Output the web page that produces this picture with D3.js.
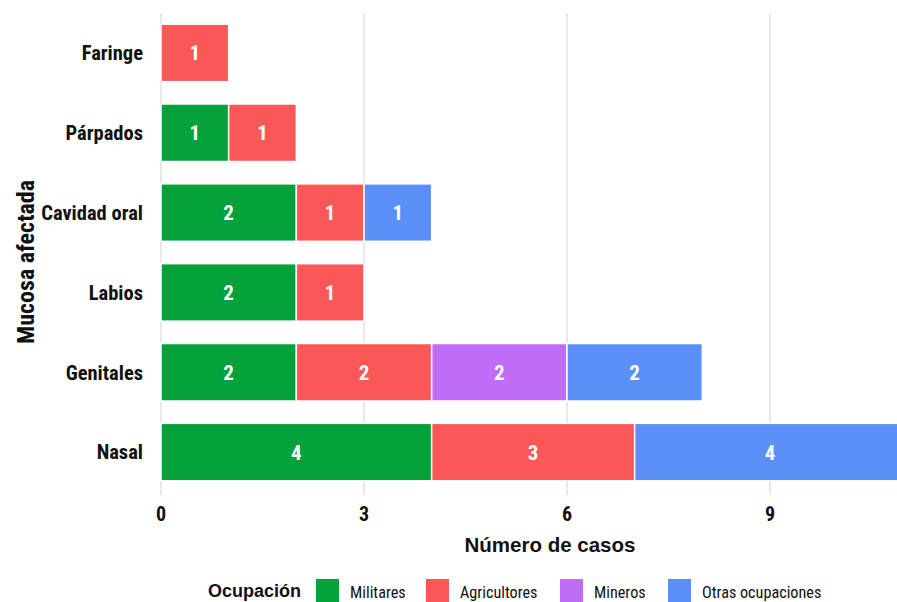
<!DOCTYPE html>
<html>
<head>
<meta charset="utf-8">
<script src="https://cdn.jsdelivr.net/npm/d3@7"></script>
<style>
  html, body { margin: 0; padding: 0; background: #ffffff; }
  svg { display: block; }
</style>
</head>
<body>
<svg id="chart" width="897" height="602"></svg>
<script>
const categories = ["Faringe", "Párpados", "Cavidad oral", "Labios", "Genitales", "Nasal"];
const seriesNames = ["Militares", "Agricultores", "Mineros", "Otras ocupaciones"];
const seriesColors = ["#05A13A", "#FA5857", "#BF6DF7", "#5B8FF8"];
const militares    = [0, 1, 2, 2, 2, 4];
const agricultores = [1, 1, 1, 1, 2, 3];
const mineros      = [0, 0, 0, 0, 2, 0];
const otras        = [0, 0, 1, 0, 2, 4];
const xTicks = [0, 3, 6, 9];

const seriesValues = [militares, agricultores, mineros, otras];
const rows = categories.map((c, i) => {
  const r = { cat: c };
  seriesNames.forEach((s, j) => r[s] = seriesValues[j][i]);
  return r;
});

const svg = d3.select("#chart");
const font = '"Liberation Sans Narrow", "Roboto Condensed", "Arial Narrow", "Liberation Sans", sans-serif';
const fontWide = '"Liberation Sans", Arial, sans-serif';

const x = d3.scaleLinear().domain([0, 9]).range([161, 770]);
const y = d3.scaleBand().domain(categories).range([13, 492]).paddingInner(0.28).paddingOuter(0.14);

const stacked = d3.stack().keys(seriesNames)(rows);

// gridlines
svg.append("g").selectAll("line").data(xTicks).join("line")
  .attr("x1", d => x(d)).attr("x2", d => x(d))
  .attr("y1", 13).attr("y2", 495)
  .attr("stroke", "#dcdcdc").attr("stroke-width", 1.3);

// bars
const layer = svg.append("g").selectAll("g").data(stacked).join("g")
  .attr("fill", (d, i) => seriesColors[i]);
layer.selectAll("rect").data(d => d.filter(p => p[1] - p[0] > 0)).join("rect")
  .attr("x", p => x(p[0]))
  .attr("width", p => x(p[1]) - x(p[0]))
  .attr("y", p => y(p.data.cat))
  .attr("height", y.bandwidth())
  .attr("stroke", "#ffffff").attr("stroke-width", 1.5);

// bar labels
const lab = svg.append("g").selectAll("g").data(stacked).join("g");
lab.selectAll("text").data(d => d.filter(p => p[1] - p[0] > 0)).join("text")
  .attr("x", p => (x(p[0]) + x(p[1])) / 2)
  .attr("y", p => y(p.data.cat) + y.bandwidth() / 2)
  .attr("dy", "0.36em")
  .attr("text-anchor", "middle")
  .attr("fill", "#ffffff")
  .attr("font-family", font).attr("font-weight", "bold").attr("font-size", 21)
  .text(p => p[1] - p[0]);

// y category labels
svg.append("g").selectAll("text").data(categories).join("text")
  .attr("x", 143)
  .attr("y", d => y(d) + y.bandwidth() / 2)
  .attr("dy", "0.36em")
  .attr("text-anchor", "end")
  .attr("fill", "#111")
  .attr("font-family", font).attr("font-weight", "bold").attr("font-size", 20.5)
  .text(d => d);

// x tick labels
svg.append("g").selectAll("text").data(xTicks).join("text")
  .attr("x", d => x(d))
  .attr("y", 514)
  .attr("dy", "0.36em")
  .attr("text-anchor", "middle")
  .attr("fill", "#111")
  .attr("font-family", font).attr("font-weight", "bold").attr("font-size", 20)
  .text(d => d);

// axis titles
svg.append("text")
  .attr("x", 550).attr("y", 545).attr("dy", "0.36em")
  .attr("text-anchor", "middle")
  .attr("fill", "#111")
  .attr("font-family", fontWide).attr("font-weight", "bold").attr("font-size", 20.5)
  .text("Número de casos");

svg.append("text")
  .attr("transform", "translate(25,262) rotate(-90)")
  .attr("dy", "0.36em")
  .attr("text-anchor", "middle")
  .attr("fill", "#111")
  .attr("font-family", font).attr("font-weight", "bold").attr("font-size", 24)
  .text("Mucosa afectada");

// legend
const legendX = [316, 426, 560, 668];
svg.append("text")
  .attr("x", 208).attr("y", 591).attr("dy", "0.36em")
  .attr("fill", "#111")
  .attr("font-family", fontWide).attr("font-weight", "bold").attr("font-size", 18)
  .text("Ocupación");
const lg = svg.append("g").selectAll("g").data(seriesNames).join("g")
  .attr("transform", (d, i) => `translate(${legendX[i]},579)`);
lg.append("rect").attr("width", 23).attr("height", 23)
  .attr("fill", (d, i) => seriesColors[i]);
lg.append("text")
  .attr("x", 34).attr("y", 13).attr("dy", "0.36em")
  .attr("fill", "#111")
  .attr("font-family", font).attr("font-size", 16.2)
  .text(d => d);
</script>
</body>
</html>
